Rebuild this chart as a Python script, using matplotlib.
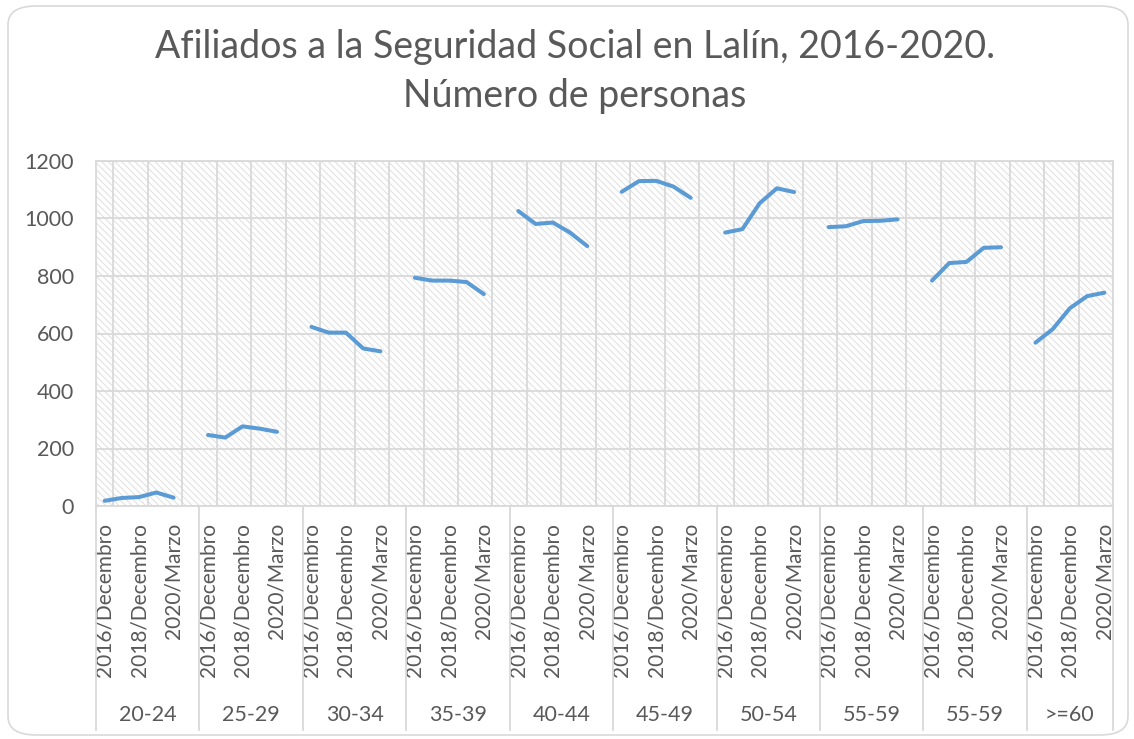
import numpy as np
import matplotlib
matplotlib.use("Agg")
import matplotlib.pyplot as plt
from matplotlib.patches import Rectangle, FancyBboxPatch
from matplotlib.transforms import blended_transform_factory

# ---- data ----
groups = ["20-24", "25-29", "30-34", "35-39", "40-44", "45-49", "50-54", "55-59", "55-59", ">=60"]
periods = ["2016/Decembro", "2017/Decembro", "2018/Decembro", "2019/Decembro", "2020/Marzo", ""]
v_20_24 = [18, 28, 31, 47, 29]
v_25_29 = [247, 238, 277, 269, 258]
v_30_34 = [623, 603, 603, 548, 538]
v_35_39 = [794, 784, 784, 779, 737]
v_40_44 = [1026, 981, 986, 951, 904]
v_45_49 = [1093, 1130, 1131, 1111, 1072]
v_50_54 = [951, 963, 1053, 1105, 1092]
v_55_59a = [970, 973, 991, 992, 997]
v_55_59b = [784, 845, 849, 898, 900]
v_60 = [568, 615, 688, 730, 742]
series = [v_20_24, v_25_29, v_30_34, v_35_39, v_40_44, v_45_49, v_50_54, v_55_59a, v_55_59b, v_60]
yticks = [0, 200, 400, 600, 800, 1000, 1200]
title_lines = ["Afiliados a la Seguridad Social en Lalín, 2016-2020.", "Número de personas"]

# ---- build flat category axis (last group has no trailing empty slot) ----
labels = []
vals = []
grp_start = []
for gi, (g, s) in enumerate(zip(groups, series)):
    grp_start.append(len(labels))
    n = len(periods) if gi < len(groups) - 1 else len(s)
    for i in range(n):
        labels.append(periods[i])
        vals.append(s[i] if i < len(s) else np.nan)
grp_start.append(len(labels))
N = len(labels)

TXT = "#595959"
GRID = "#d9d9d9"
LINE = "#5B9BD5"
plt.rcParams['font.family'] = ['Lato', 'DejaVu Sans']
plt.rcParams['hatch.linewidth'] = 0.75

W, H = 1134, 739
fig = plt.figure(figsize=(W / 100, H / 100), dpi=100)
fig.patch.set_facecolor("white")

# outer frame
frame = FancyBboxPatch((8 / W, 4 / H), (W - 14) / W, (H - 10) / H,
                       boxstyle="round,pad=0,rounding_size=0.025",
                       transform=fig.transFigure, facecolor="white",
                       edgecolor=GRID, linewidth=1.2, zorder=-10)
fig.patches.append(frame)

L, R, B, T = 96, 1113, 506, 161
ax = fig.add_axes([L / W, 1 - B / H, (R - L) / W, (B - T) / H])
ax.set_facecolor("white")
ax.add_patch(Rectangle((0, 0), 1, 1, transform=ax.transAxes, facecolor="white",
                       edgecolor="#e0e0e0", hatch="\\\\\\\\\\", linewidth=0, zorder=0))

ax.set_xlim(-0.5, N - 0.5)
ax.set_ylim(0, 1200)

# gridlines
for yv in yticks:
    ax.axhline(yv, color=GRID, lw=1.3, zorder=1)
for xv in np.arange(0.5, N - 0.5, 2):
    ax.axvline(xv, color=GRID, lw=1.3, zorder=1)
ax.axvline(N - 0.5, color=GRID, lw=1.3, zorder=1)

# series, one segment per group
x = np.arange(N)
for gi in range(len(groups)):
    a, b = grp_start[gi], grp_start[gi + 1]
    ax.plot(x[a:b], vals[a:b], color=LINE, lw=2.9, solid_capstyle="round",
            solid_joinstyle="round", zorder=3)

for sp in ax.spines.values():
    sp.set_color(GRID)
    sp.set_linewidth(1.3)

ax.set_yticks(yticks)
ax.set_yticklabels([str(v) for v in yticks], fontsize=15.5, color=TXT)
ax.tick_params(axis="y", length=0, pad=16)

ax.set_xticks(x[::2])
ax.set_xticklabels(labels[::2], rotation=90, fontsize=15, color=TXT, va="top", ha="center")
ax.tick_params(axis="x", length=0, pad=12)

# multi-level axis separators and group labels
tr = blended_transform_factory(ax.transData, fig.transFigure)
for s in grp_start:
    ax.plot([s - 0.5, s - 0.5], [1 - 730 / H, 1 - B / H], transform=tr, color=GRID,
            lw=1.3, clip_on=False)
for gi, g in enumerate(groups):
    a, b = grp_start[gi], grp_start[gi + 1]
    ax.text((a + b - 1) / 2, 1 - 715 / H, g, transform=tr, ha="center", va="center",
            fontsize=15.5, color=TXT)

# title: two lines placed by their baselines
fig.text(0.507, 1 - 58 / H, title_lines[0], ha="center", va="baseline", fontsize=27,
         color=TXT)
fig.text(0.507, 1 - 107 / H, title_lines[1], ha="center", va="baseline", fontsize=27,
         color=TXT)

fig.savefig("out.png", dpi=100)
